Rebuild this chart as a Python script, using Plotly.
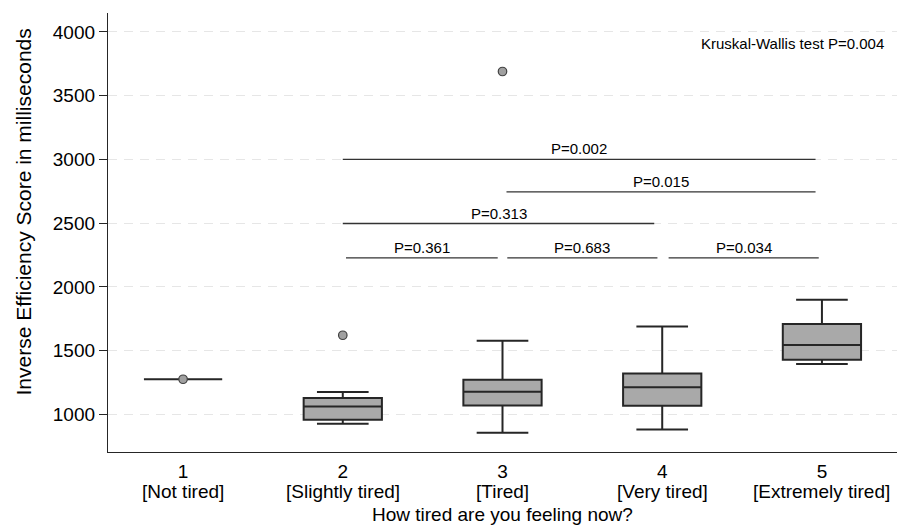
import plotly.graph_objects as go

# ---- data ----
groups = [1, 2, 3, 4, 5]
group_numbers = ["1", "2", "3", "4", "5"]
group_names = ["[Not tired]", "[Slightly tired]", "[Tired]", "[Very tired]", "[Extremely tired]"]
lower_whisker = [1275, 926, 855, 881, 1395]
q1 = [1275, 957, 1069, 1067, 1427]
median = [1275, 1061, 1176, 1213, 1544]
q3 = [1275, 1127, 1270, 1320, 1709]
upper_whisker = [1275, 1174, 1578, 1688, 1899]

outlier_x = [1, 2, 3]
outlier_y = [1275, 1620, 3690]

comp_x0 = [2.0, 3.025, 2.0, 2.02, 3.03, 4.04]
comp_x1 = [4.96, 4.96, 3.95, 2.97, 3.97, 4.98]
comp_y = [3000, 2745, 2497, 2228, 2228, 2228]
comp_p = ["P=0.002", "P=0.015", "P=0.313", "P=0.361", "P=0.683", "P=0.034"]

kw_text = "Kruskal-Wallis test P=0.004"
y_ticks = [1000, 1500, 2000, 2500, 3000, 3500, 4000]

FONT = "Liberation Sans, Arial, sans-serif"
DARK = "#262626"

# plot-area geometry in pixels (for placing paper-referenced texts)
L, T, W, H = 108, 12.7, 789, 439.6


def py(px):
    return 1 - (px - T) / H


fig = go.Figure()

fig.add_trace(go.Box(
    x=groups, q1=q1, median=median, q3=q3,
    lowerfence=lower_whisker, upperfence=upper_whisker,
    width=0.49, whiskerwidth=0.66,
    fillcolor="#a9a9a9", line=dict(color=DARK, width=2),
    boxpoints=False, showlegend=False, hoverinfo="skip",
))

fig.add_trace(go.Scatter(
    x=outlier_x, y=outlier_y, mode="markers",
    marker=dict(size=8.5, color="#a0a0a0", line=dict(color="#404040", width=1.2)),
    showlegend=False, hoverinfo="skip",
))

for x0, x1, y, p in zip(comp_x0, comp_x1, comp_y, comp_p):
    fig.add_trace(go.Scatter(
        x=[x0, x1], y=[y, y], mode="lines",
        line=dict(color="#333333", width=1.3),
        showlegend=False, hoverinfo="skip",
    ))
    fig.add_annotation(
        x=(x0 + x1) / 2, y=y, text=p, showarrow=False,
        xref="x", yref="y", yanchor="bottom",
        font=dict(family=FONT, size=15, color="#000"),
    )

fig.add_annotation(
    text=kw_text, showarrow=False, xref="paper", yref="paper",
    x=(886 - L) / W, y=py(43.5), xanchor="right", yanchor="middle",
    font=dict(family=FONT, size=15, color="#000"),
)

# second line of category labels
for g, name in zip(groups, group_names):
    fig.add_annotation(
        text=name, showarrow=False, xref="x", yref="paper",
        x=g, y=py(491.5), xanchor="center", yanchor="middle",
        font=dict(family=FONT, size=19, color="#000"),
    )

# axis titles
fig.add_annotation(
    text="Inverse Efficiency Score in milliseconds", textangle=-90,
    xref="paper", yref="paper", x=-(L - 24) / W, y=py(212.5),
    xanchor="center", yanchor="middle", showarrow=False,
    font=dict(family=FONT, size=21, color="#000"),
)
fig.add_annotation(
    text="How tired are you feeling now?",
    xref="paper", yref="paper", x=0.5, y=py(515),
    xanchor="center", yanchor="middle", showarrow=False,
    font=dict(family=FONT, size=19, color="#000"),
)

fig.update_layout(
    width=897, height=525,
    margin=dict(l=L, r=0, t=T, b=525 - T - H),
    paper_bgcolor="white", plot_bgcolor="white",
    font=dict(family=FONT, color="#000"),
    xaxis=dict(
        range=[0.53, 5.47], tickvals=groups, ticktext=group_numbers,
        tickfont=dict(family=FONT, size=19, color="#000"),
        showgrid=False, zeroline=False, showline=True, linecolor=DARK, linewidth=1.3,
        ticks="", ticklabelstandoff=2,
    ),
    yaxis=dict(
        range=[704, 4149], tickvals=y_ticks,
        tickfont=dict(family=FONT, size=19, color="#000"),
        showgrid=True, gridcolor="#e6e6e6", griddash="9px,7px", gridwidth=1,
        zeroline=False, showline=True, linecolor=DARK, linewidth=1.3,
        ticks="outside", ticklen=8, tickcolor=DARK, tickwidth=1.3,
    ),
)

fig.write_html("out.html", config={"displayModeBar": False},
               post_script="document.body.style.margin='0';")
